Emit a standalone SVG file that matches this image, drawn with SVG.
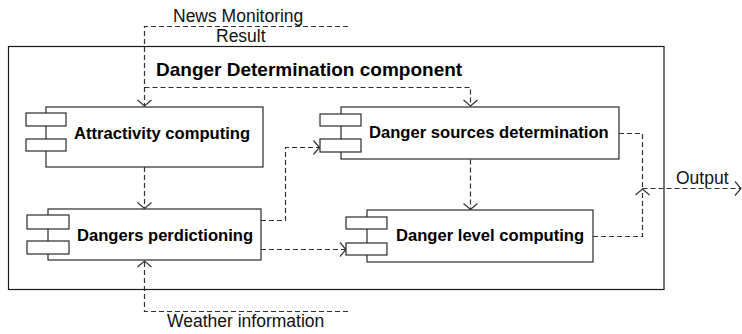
<svg xmlns="http://www.w3.org/2000/svg" width="742" height="334" viewBox="0 0 742 334">
  <style>
    .frame { fill: #ffffff; stroke: #1a1a1a; stroke-width: 1.2; }
    .box { fill: #ffffff; stroke: #2a2a2a; stroke-width: 1.2; }
    .tab { fill: #ffffff; stroke: #2a2a2a; stroke-width: 1.2; }
    .dash { fill: none; stroke: #333333; stroke-width: 1.2; stroke-dasharray: 5 3; }
    .title { font-family: "Liberation Sans", Arial, sans-serif; font-weight: bold; font-size: 19px; fill: #000000; }
    .name { font-family: "Liberation Sans", Arial, sans-serif; font-weight: bold; font-size: 16.6px; fill: #000000; }
    .label { font-family: "Liberation Sans", Arial, sans-serif; font-size: 17.5px; fill: #111111; }
  </style>
  <defs>
    <marker id="open" viewBox="-8 -8 10 16" markerWidth="10" markerHeight="16" refX="0" refY="0" orient="auto" markerUnits="userSpaceOnUse">
      <path d="M-6,-7 L0,0 L-6,7" fill="none" stroke="#333333" stroke-width="1.2"/>
    </marker>
  </defs>

  <rect width="742" height="334" fill="#ffffff"/>

  <!-- enclosing component -->
  <g id="danger-determination">
    <rect class="frame" x="8.5" y="46.5" width="655.5" height="243"/>
    <text class="title" x="156" y="76">Danger Determination component</text>
  </g>

  <!-- connectors -->
  <g id="connectors">
    <path class="dash" d="M348,26.5 H144.5 V106" marker-end="url(#open)"/>
    <path class="dash" d="M144.5,87.5 H470.5 V106" marker-end="url(#open)"/>
    <path class="dash" d="M144.5,167 V208.5" marker-end="url(#open)"/>
    <path class="dash" d="M261,220.5 H285.5 V147.5 H319.5" marker-end="url(#open)"/>
    <path class="dash" d="M261,249.5 H346" marker-end="url(#open)"/>
    <path class="dash" d="M470.5,159.5 V209.5" marker-end="url(#open)"/>
    <path class="dash" d="M619,133.5 H642.5 V188.5"/>
    <path class="dash" d="M593,236.5 H642.5 V189" marker-end="url(#open)"/>
    <path class="dash" d="M642.5,188.5 H741" marker-end="url(#open)"/>
    <path class="dash" d="M348,311.5 H144.5 V261" marker-end="url(#open)"/>
  </g>

  <!-- external labels -->
  <g id="labels">
    <text class="label" x="173" y="22">News Monitoring</text>
    <text class="label" x="216" y="42">Result</text>
    <text class="label" x="676" y="184">Output</text>
    <text class="label" x="167" y="327">Weather information</text>
  </g>

  <g id="attractivity-computing">
    <rect class="box" x="46" y="107" width="217" height="60"/>
    <rect class="tab" x="26" y="113" width="40" height="13"/>
    <rect class="tab" x="26" y="139" width="40" height="12"/>
    <text class="name" x="74" y="139">Attractivity computing</text>
  </g>

  <g id="danger-sources-determination">
    <rect class="box" x="341" y="107" width="278" height="52"/>
    <rect class="tab" x="320" y="114" width="41" height="12"/>
    <rect class="tab" x="320" y="139" width="41" height="13"/>
    <text class="name" x="369" y="138">Danger sources determination</text>
  </g>

  <g id="dangers-perdictioning">
    <rect class="box" x="48" y="209" width="213" height="51"/>
    <rect class="tab" x="27" y="215" width="42" height="14"/>
    <rect class="tab" x="27" y="241" width="42" height="13"/>
    <text class="name" x="77" y="241">Dangers perdictioning</text>
  </g>

  <g id="danger-level-computing">
    <rect class="box" x="367" y="210" width="226" height="52"/>
    <rect class="tab" x="346" y="217" width="41" height="12"/>
    <rect class="tab" x="346" y="243" width="41" height="12"/>
    <text class="name" x="396" y="241">Danger level computing</text>
  </g>
</svg>
